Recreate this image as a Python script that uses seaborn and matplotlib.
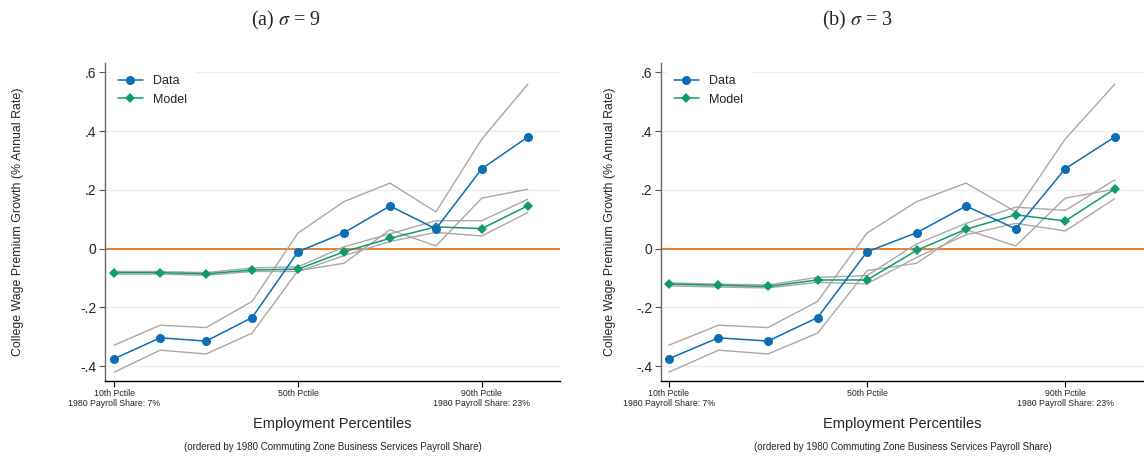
import matplotlib
matplotlib.use("Agg")
import matplotlib.pyplot as plt
import numpy as np
import pandas as pd
import seaborn as sns
from matplotlib.lines import Line2D

sns.set_theme(style="white")
plt.rcParams["font.family"] = ["Liberation Sans", "DejaVu Sans"]
plt.rcParams["mathtext.fontset"] = "stix"

# employment percentiles (ordered by 1980 business services payroll share)
pctile = [10, 20, 30, 40, 50, 60, 70, 80, 90, 100]

# data: same in both panels
data = [-0.375, -0.304, -0.315, -0.235, -0.011, 0.054, 0.145, 0.067, 0.272, 0.380]
data_hi = [-0.329, -0.261, -0.269, -0.180, 0.053, 0.160, 0.223, 0.125, 0.373, 0.560]
data_lo = [-0.421, -0.346, -0.359, -0.288, -0.075, -0.050, 0.064, 0.009, 0.172, 0.202]

# model, sigma = 9
model_a = [-0.082, -0.082, -0.086, -0.073, -0.070, -0.011, 0.035, 0.074, 0.068, 0.146]
model_a_hi = [-0.078, -0.078, -0.082, -0.066, -0.062, 0.006, 0.050, 0.095, 0.095, 0.168]
model_a_lo = [-0.087, -0.087, -0.091, -0.078, -0.078, -0.024, 0.024, 0.055, 0.043, 0.123]

# model, sigma = 3
model_b = [-0.121, -0.125, -0.129, -0.107, -0.107, -0.006, 0.066, 0.115, 0.094, 0.203]
model_b_hi = [-0.117, -0.121, -0.124, -0.098, -0.092, 0.016, 0.086, 0.141, 0.130, 0.234]
model_b_lo = [-0.127, -0.131, -0.134, -0.115, -0.120, -0.030, 0.047, 0.086, 0.060, 0.170]

titles = [r"(a) $\sigma$ = 9", r"(b) $\sigma$ = 3"]
yticks = [-0.4, -0.2, 0, 0.2, 0.4, 0.6]
ytick_labels = ["-.4", "-.2", "0", ".2", ".4", ".6"]
xticks = [10, 50, 90]
xtick_labels = ["10th Pctile\n1980 Payroll Share: 7%", "50th Pctile",
                "90th Pctile\n1980 Payroll Share: 23%"]

BLUE = "#0b6db3"
GREEN = "#109a72"
ORANGE = "#e8761f"
GRAY = "#a8a8a8"
GRID = "#e8f0f2"

fig = plt.figure(figsize=(11.44, 4.58), dpi=100)
ax_a = fig.add_axes([105 / 1144, 77 / 458, 455 / 1144, 318 / 458])
ax_b = fig.add_axes([661 / 1144, 77 / 458, 483 / 1144, 318 / 458])

panels = [
    (ax_a, model_a, model_a_hi, model_a_lo, (8.0, 107.0), -0.178),
    (ax_b, model_b, model_b_hi, model_b_lo, (8.4, 105.9), -0.094),
]

for ax, model, m_hi, m_lo, xlim, ylab_x in panels:
    for yt in yticks:
        ax.axhline(yt, color=GRID, lw=1.0, zorder=0)
    ax.axhline(0, color=ORANGE, lw=1.3, zorder=1)

    for band in [data_hi, data_lo, m_hi, m_lo]:
        sns.lineplot(x=pctile, y=band, ax=ax, color=GRAY, lw=1.0, zorder=2)

    sns.lineplot(x=pctile, y=data, ax=ax, color=BLUE, lw=1.1, marker="o",
                 markersize=6.5, markeredgewidth=0, zorder=4)
    sns.lineplot(x=pctile, y=model, ax=ax, color=GREEN, lw=1.1, marker="D",
                 markersize=4.8, markeredgewidth=0, zorder=3)

    ax.set_xlim(*xlim)
    ax.set_ylim(-0.451, 0.632)
    ax.set_yticks(yticks)
    ax.set_yticklabels(ytick_labels, fontsize=10)
    ax.set_xticks(xticks)
    ax.set_xticklabels(xtick_labels, fontsize=6.3, linespacing=1.05)
    ax.tick_params(axis="y", length=4, width=0.8, color="#555555", pad=2, left=True)
    ax.tick_params(axis="x", length=4, width=0.8, color="black", pad=2, bottom=True)

    for side in ["top", "right"]:
        ax.spines[side].set_visible(False)
    ax.spines["left"].set_color("#666666")
    ax.spines["left"].set_linewidth(1.0)
    ax.spines["bottom"].set_color("black")
    ax.spines["bottom"].set_linewidth(1.0)

    ax.set_ylabel("College Wage Premium Growth (% Annual Rate)", fontsize=8.9)
    ax.yaxis.set_label_coords(ylab_x, 0.5)
    ax.set_xlabel("Employment Percentiles", fontsize=10.5, labelpad=7)
    ax.text(0.5, -0.208, "(ordered by 1980 Commuting Zone Business Services Payroll Share)",
            transform=ax.transAxes, ha="center", va="center", fontsize=7)

    handles = [
        Line2D([], [], color=BLUE, lw=1.1, marker="o", markersize=6.5, markeredgewidth=0),
        Line2D([], [], color=GREEN, lw=1.1, marker="D", markersize=4.8, markeredgewidth=0),
    ]
    leg = ax.legend(handles, ["Data", "Model"], loc="upper left", fontsize=9,
                    frameon=True, framealpha=1, edgecolor="white", facecolor="white",
                    fancybox=False, borderpad=0.5, handlelength=2.0, labelspacing=0.5,
                    bbox_to_anchor=(0.0, 1.0))
    leg.set_zorder(5)

for x, title in zip([0.25, 0.75], titles):
    fig.text(x, 0.955, title, ha="center", va="center", fontsize=14.5,
             family=["Liberation Serif", "DejaVu Serif"])

fig.savefig("out.png", dpi=100)
